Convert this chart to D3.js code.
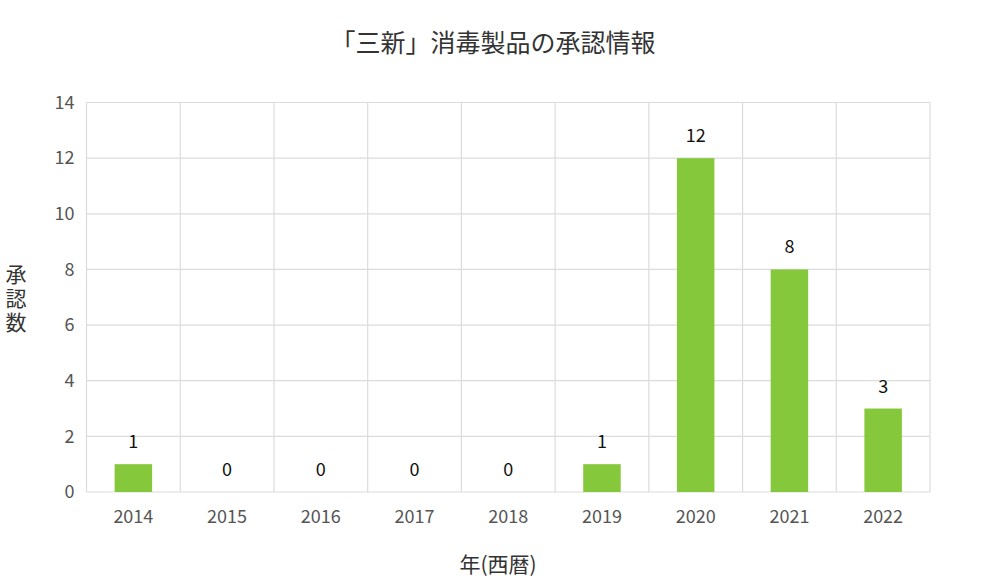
<!DOCTYPE html>
<html>
<head>
<meta charset="utf-8">
<script src="https://cdn.jsdelivr.net/npm/d3@7"></script>
<style>
  body { margin: 0; background: #fff; }
  text { font-family: "Noto Sans CJK JP", "Noto Sans", sans-serif; }
</style>
</head>
<body>
<div id="chart"></div>
<script>
// data
const years = ["2014", "2015", "2016", "2017", "2018", "2019", "2020", "2021", "2022"];
const counts = [1, 0, 0, 0, 0, 1, 12, 8, 3];
const yTicks = [0, 2, 4, 6, 8, 10, 12, 14];

const W = 1007, H = 585;
const margin = {top: 102.5, right: 77, bottom: 93, left: 86.5};
const width = W - margin.left - margin.right,
  height = H - margin.top - margin.bottom;

const svg = d3.select("#chart").append("svg")
  .attr("width", W)
  .attr("height", H);

const g = svg.append("g")
  .attr("transform", "translate(" + margin.left + "," + margin.top + ")");

const x = d3.scaleBand().domain(years).range([0, width]).paddingInner(0).paddingOuter(0);
const y = d3.scaleLinear().domain([0, 14]).range([height, 0]);

// grid: horizontal lines at ticks, vertical at band edges
g.selectAll(".hgrid")
  .data(yTicks)
  .join("line")
  .attr("class", "hgrid")
  .attr("x1", 0).attr("x2", width)
  .attr("y1", d => y(d)).attr("y2", d => y(d))
  .attr("stroke", "#dcdcdc").attr("stroke-width", 1.2);

const edges = years.map(d => x(d)).concat([width]);
g.selectAll(".vgrid")
  .data(edges)
  .join("line")
  .attr("class", "vgrid")
  .attr("x1", d => d).attr("x2", d => d)
  .attr("y1", 0).attr("y2", height)
  .attr("stroke", "#dcdcdc").attr("stroke-width", 1.2);

// bars
const barW = x.bandwidth() * 0.4;
g.selectAll(".bar")
  .data(years)
  .join("rect")
  .attr("class", "bar")
  .attr("x", d => x(d) + (x.bandwidth() - barW) / 2)
  .attr("width", barW)
  .attr("y", (d, i) => y(counts[i]))
  .attr("height", (d, i) => height - y(counts[i]))
  .attr("fill", "#86c83c");

// value labels
g.selectAll(".val")
  .data(years)
  .join("text")
  .attr("class", "val")
  .attr("x", d => x(d) + x.bandwidth() / 2)
  .attr("y", (d, i) => y(counts[i]) - 16)
  .attr("text-anchor", "middle")
  .attr("font-size", 18)
  .attr("fill", "#111")
  .text((d, i) => counts[i]);

// y tick labels
g.selectAll(".ytick")
  .data(yTicks)
  .join("text")
  .attr("class", "ytick")
  .attr("x", -12)
  .attr("y", d => y(d))
  .attr("dy", "0.35em")
  .attr("text-anchor", "end")
  .attr("font-size", 18)
  .attr("fill", "#555")
  .text(d => d);

// x tick labels
g.selectAll(".xtick")
  .data(years)
  .join("text")
  .attr("class", "xtick")
  .attr("x", d => x(d) + x.bandwidth() / 2)
  .attr("y", height + 31)
  .attr("text-anchor", "middle")
  .attr("font-size", 18)
  .attr("fill", "#555")
  .text(d => d);

// title
svg.append("text")
  .attr("x", 493)
  .attr("y", 52)
  .attr("text-anchor", "middle")
  .attr("font-size", 25)
  .attr("fill", "#333")
  .text("「三新」消毒製品の承認情報");

// x axis title
svg.append("text")
  .attr("x", 498)
  .attr("y", 572)
  .attr("text-anchor", "middle")
  .attr("font-size", 21)
  .attr("fill", "#333")
  .text("年(西暦)");

// y axis title, written vertically
svg.append("text")
  .attr("x", 16)
  .attr("y", 264)
  .attr("writing-mode", "vertical-rl")
  .attr("text-orientation", "upright")
  .attr("letter-spacing", 3)
  .attr("font-size", 21)
  .attr("fill", "#333")
  .text("承認数");
</script>
</body>
</html>
